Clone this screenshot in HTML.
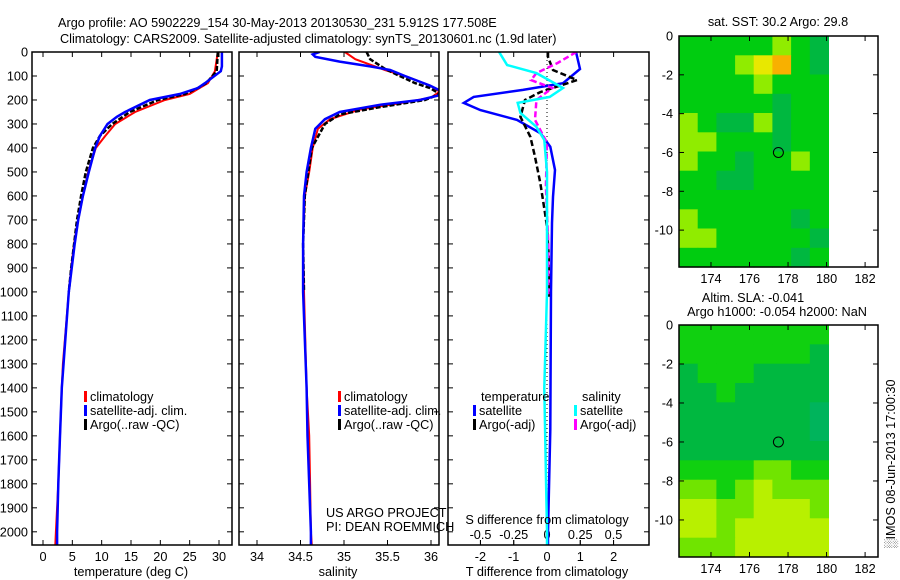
<!DOCTYPE html>
<html><head><meta charset="utf-8"><style>
body{margin:0;background:#fff}
svg{display:block;font-family:"Liberation Sans",sans-serif;font-size:12.7px}
</style></head><body>
<svg id="c" width="900" height="580" viewBox="0 0 900 580">
<g id="root"></g>
</svg>
<script>
// ---- profile data ----
const tClimDepth=[0,80,130,150,175,200,250,300,350,400,500,600,700,800,900,1000,1300,1400,1600,1800,2000,2055];
const tClimVal=[29.8,29.3,28.1,26.7,25,20.8,15.7,12.3,10.6,9,7.7,6.8,6,5.3,4.8,4.4,3.4,3.2,2.9,2.6,2.2,2.1];
const tSatDepth=[0,60,80,130,150,175,200,250,270,300,350,400,500,600,700,800,1000,1400,1600,1800,2000,2055];
const tSatVal=[30.5,30.5,30.3,27.6,26.4,23.3,18.2,14,12.6,11,9.7,8.9,7.8,6.8,6,5.4,4.4,3.2,2.9,2.6,2.4,2.4];
const tArgoDepth=[0,80,130,150,175,200,250,300,350,400,500,600,700,800,900,1000];
const tArgoVal=[29.8,29.6,27.8,26.4,24.2,19.6,14.8,11.8,9.7,8.5,7.3,6.5,5.8,5.3,4.8,4.4];
const sClimDepth=[0,30,75,100,140,165,190,210,240,280,320,400,500,600,800,1000,1400,1600,1800,2000,2055];
const sClimVal=[35.01,35.13,35.47,35.7,35.99,36.1,36.0,35.7,35.18,34.84,34.7,34.64,34.6,34.55,34.53,34.54,34.57,34.6,34.61,34.62,34.63];
const sSatDepth=[0,10,20,40,60,75,100,140,160,180,200,220,250,280,320,400,500,600,800,1000,1400,1600,1800,2000,2055];
const sSatVal=[34.72,34.64,34.67,34.95,35.3,35.53,35.7,35.99,36.1,36.1,35.87,35.41,34.95,34.78,34.67,34.62,34.57,34.54,34.53,34.53,34.57,34.58,34.6,34.62,34.62];
const sArgoDepth=[0,30,70,100,130,150,175,200,230,260,300,400,500,600,800,1000];
const sArgoVal=[35.26,35.3,35.47,35.64,35.82,35.99,36.1,35.93,35.41,34.95,34.78,34.63,34.59,34.55,34.53,34.54];
const dTSatDepth=[0,71,130,158,187,212,242,283,338,395,492,604,712,1000,1575,2000,2055];
const dTSatVal=[0.87,0.99,0.48,-0.72,-2.2,-2.5,-2.0,-0.9,-0.2,0.1,0.24,0.18,0.15,0.12,0.1,0.03,0.03];
const dSSatDepth=[0,54,88,150,187,212,254,312,367,500,1000,1400,2000,2055];
const dSSatVal=[-0.36,-0.3,-0.08,0.12,0.02,-0.22,-0.2,-0.08,-0.02,0,0,-0.02,0,0];
const dTArgoDepth=[0,21,75,117,167,200,270,354,437,546,671,729,850,1020];
const dTArgoVal=[0.03,0.03,0.18,0.9,-0.2,-0.66,-0.8,-0.5,-0.36,-0.2,-0.06,0,0.05,0.05];
const dSArgoDepth=[0,46,88,117,150,200,283,379,562,800,1020];
const dSArgoVal=[0.22,0.08,-0.08,-0.12,0.04,-0.08,-0.09,0,-0.008,0.01,0.01];
const depthTicks=[0,100,200,300,400,500,600,700,800,900,1000,1100,1200,1300,1400,1500,1600,1700,1800,1900,2000];
const tTicks=[0,5,10,15,20,25,30];
const sTicks=[34,34.5,35,35.5,36];
const dTTicks=[-2,-1,0,1,2];
const dSTicks=[-0.5,-0.25,0,0.25,0.5];
const dSTickLabels=["-0.5","-0.25","0","0.25","0.5"];
// ---- map data (coarse cells, colour levels) ----
const sstGrid=[
[2,2,2,2,2,3,2,1],[2,2,2,3,4,5,2,1],[2,2,2,2,3,2,2,2],[2,2,2,2,2,1,2,2],
[3,2,1,1,3,1,2,2],[3,3,2,2,2,1,2,2],[3,2,2,1,2,2,3,2],[2,2,1,1,2,2,2,2],
[2,2,2,2,2,2,2,2],[3,2,2,2,2,2,1,2],[3,3,2,2,2,2,2,1],[2,2,2,2,2,2,1,2]];
const slaGrid=[
[2,2,2,2,2,2,2,2],[2,2,2,2,2,2,2,1],[1,2,2,2,1,1,1,1],[1,1,2,1,1,1,1,1],
[1,1,1,1,1,1,1,0],[1,1,1,1,1,1,1,0],[1,1,1,1,1,1,1,1],[2,2,2,2,3,3,2,2],
[3,3,2,3,4,3,3,3],[4,4,3,3,4,4,4,3],[4,4,3,4,4,4,4,4],[3,3,3,4,4,4,4,4]];
const sstColors=["#00b868","#00b840","#00cc10","#90ec00","#e8e800","#f8b000"];
const slaColors=["#00b45c","#00b840","#10d010","#70e400","#b8f000"];
const mapXTicks=[174,176,178,180,182];
const mapYTicks=[0,-2,-4,-6,-8,-10];
const argoLon=177.5, argoLat=-6;

const NS="http://www.w3.org/2000/svg";
const root=document.getElementById('root');
function el(tag,attrs,parent){const e=document.createElementNS(NS,tag);for(const k in attrs)e.setAttribute(k,attrs[k]);(parent||root).appendChild(e);return e;}
function txt(x,y,s,anchor,parent){const t=el('text',{x:x,y:y,'text-anchor':anchor||'start'},parent);t.textContent=s;return t;}

const Y0=52,Y1=545,D0=0,D1=2055;
function yD(d){return Y0+(d-D0)/(D1-D0)*(Y1-Y0);}
function linScale(d0,d1,r0,r1){return v=>r0+(v-d0)/(d1-d0)*(r1-r0);}
const xT=linScale(0,30,43,219);
const xS=linScale(34,36,257,431);
const xDT=linScale(0,1,547,580.3);
const xDS=linScale(0,1,547,680);

function frame(x0,x1,name){const r=el('rect',{x:x0,y:Y0,width:x1-x0,height:Y1-Y0,fill:'none',stroke:'#000','stroke-width':1.5});}
const panels=[[32,232],[239,439],[448,649]];
el('defs',{}).innerHTML='<clipPath id="cp1"><rect x="32" y="52" width="200" height="493"/></clipPath><clipPath id="cp2"><rect x="239" y="52" width="200" height="493"/></clipPath><clipPath id="cp3"><rect x="448" y="52" width="201" height="493"/></clipPath>';

// title
const t1=txt(58,27,"Argo profile: AO 5902229_154 30-May-2013 20130530_231 5.912S 177.508E");

const t2=txt(60,43,"Climatology: CARS2009. Satellite-adjusted climatology: synTS_20130601.nc (1.9d later)");


// depth ticks
depthTicks.forEach(d=>{
  const y=yD(d);
  const l=txt(28,y+4.5,String(d),'end');
  
  panels.forEach(p=>{el('line',{x1:p[0],y1:y,x2:p[0]+5,y2:y,stroke:'#000'});el('line',{x1:p[1],y1:y,x2:p[1]-5,y2:y,stroke:'#000'});});
});
function xticks(vals,sc,labels,ly,top){
  vals.forEach((v,i)=>{const x=sc(v);
    el('line',{x1:x,y1:Y1,x2:x,y2:Y1-5,stroke:'#000'});
    if(top)el('line',{x1:x,y1:Y0,x2:x,y2:Y0+5,stroke:'#000'});
    const l=txt(x,ly,labels?labels[i]:String(v),'middle');
    });
}
xticks(tTicks,xT,null,561,true);
xticks(sTicks,xS,null,561,true);
xticks(dTTicks,xDT,null,561,true);
xticks(dSTicks,xDS,dSTickLabels,539,false);

function lineIn(g,ds,vs,xs,color,w,dash,name){
  const pts=ds.map((d,i)=>xs(vs[i]).toFixed(1)+','+yD(d).toFixed(1)).join(' ');
  const p=el('polyline',{points:pts,fill:'none',stroke:color,'stroke-width':w,'stroke-dasharray':dash||'none'},g);
  
}
let g1=el('g',{'clip-path':'url(#cp1)'});
lineIn(g1,tClimDepth,tClimVal,xT,'#f00',2,null,'temp-climatology-line');
lineIn(g1,tArgoDepth,tArgoVal,xT,'#000',2.5,'5,2','temp-argo-line');
lineIn(g1,tSatDepth,tSatVal,xT,'#00f',2.5,null,'temp-satellite-line');
frame(32,232,'temperature-panel');
let g2=el('g',{'clip-path':'url(#cp2)'});
lineIn(g2,sClimDepth,sClimVal,xS,'#f00',2,null,'sal-climatology-line');
lineIn(g2,sArgoDepth,sArgoVal,xS,'#000',2.5,'5,2','sal-argo-line');
lineIn(g2,sSatDepth,sSatVal,xS,'#00f',2.5,null,'sal-satellite-line');
frame(239,439,'salinity-panel');
let g3=el('g',{'clip-path':'url(#cp3)'});
el('line',{x1:547,y1:Y0,x2:547,y2:Y1,stroke:'#000','stroke-dasharray':'1,3'},g3);
lineIn(g3,dTSatDepth,dTSatVal,xDT,'#00f',2.5,null,'tdiff-satellite-line');
lineIn(g3,dTArgoDepth,dTArgoVal,xDT,'#000',2.5,'6,3','tdiff-argo-line');
lineIn(g3,dSArgoDepth,dSArgoVal,xDS,'#f0f',2.5,'6,3','sdiff-argo-line');
lineIn(g3,dSSatDepth,dSSatVal,xDS,'#0ff',2.5,null,'sdiff-satellite-line');
frame(448,649,'difference-panel');

[[131,576,'temperature (deg C)'],[338,576,'salinity'],[547,576,'T difference from climatology'],[547,524,'S difference from climatology']].forEach(a=>{
  const l=txt(a[0],a[1],a[2],'middle');});
function legend(x,y,color,label){
  const r=el('rect',{x:x,y:y-10,width:3,height:11,fill:color});
  
  const l=txt(x+6,y,label);
}
[['climatology','#f00'],['satellite-adj. clim.','#00f'],['Argo(..raw -QC)','#000']].forEach((a,i)=>legend(84,401+i*14,a[1],a[0]));
[['climatology','#f00'],['satellite-adj. clim.','#00f'],['Argo(..raw -QC)','#000']].forEach((a,i)=>legend(338,401+i*14,a[1],a[0]));
let lt=txt(481,401,'temperature');
let ls=txt(582,401,'salinity');
legend(473,415,'#00f','satellite');legend(473,429,'#000','Argo(-adj)');
legend(574,415,'#0ff','satellite');legend(574,429,'#f0f','Argo(-adj)');
let c1=txt(326,517,'US ARGO PROJECT');
let c2=txt(326,531,'PI: DEAN ROEMMICH');

function map(top,bottom,grid,colors,name){
  const mx=linScale(172.34,182.67,679,878), my=linScale(0,-11.9,top,bottom);
  const rows=grid.length, cols=grid[0].length;
  const lon0=172.34,lon1=180.1,lat0=0,lat1=-11.9;
  grid.forEach((row,r)=>row.forEach((v,c)=>{
    const x0=mx(lon0+(lon1-lon0)*c/cols),x1=mx(lon0+(lon1-lon0)*(c+1)/cols);
    const y0=my(lat0+(lat1-lat0)*r/rows),y1=my(lat0+(lat1-lat0)*(r+1)/rows);
    const rc=el('rect',{x:x0.toFixed(1),y:y0.toFixed(1),width:(x1-x0+0.5).toFixed(1),height:(y1-y0+0.5).toFixed(1),fill:colors[v]});
    
  }));
  const ci=el('circle',{cx:mx(argoLon),cy:my(argoLat),r:5,fill:'none',stroke:'#000','stroke-width':1});
  
  const fr=el('rect',{x:679,y:top,width:199,height:bottom-top,fill:'none',stroke:'#000','stroke-width':1.5});
  
  mapXTicks.forEach(v=>{const x=mx(v);el('line',{x1:x,y1:bottom,x2:x,y2:bottom-5,stroke:'#000'});el('line',{x1:x,y1:top,x2:x,y2:top+5,stroke:'#000'});
    const l=txt(x,bottom+16,String(v),'middle');});
  mapYTicks.forEach(v=>{const y=my(v);el('line',{x1:679,y1:y,x2:684,y2:y,stroke:'#000'});el('line',{x1:878,y1:y,x2:873,y2:y,stroke:'#000'});
    const l=txt(673,y+4.5,String(v),'end');});
}
map(36,267,sstGrid,sstColors,'sst-map');
map(325,557,slaGrid,slaColors,'sla-map');
let m1=txt(778,26,'sat. SST: 30.2 Argo: 29.8','middle');
let m2=txt(753,302,'Altim. SLA: -0.041','middle');
let m3=txt(777,316,'Argo h1000: -0.054 h2000: NaN','middle');
let im=txt(0,0,'\u2591IMOS 08-Jun-2013 17:00:30','middle');
im.setAttribute('transform','translate(895,464) rotate(-90)');

</script>
</body></html>
